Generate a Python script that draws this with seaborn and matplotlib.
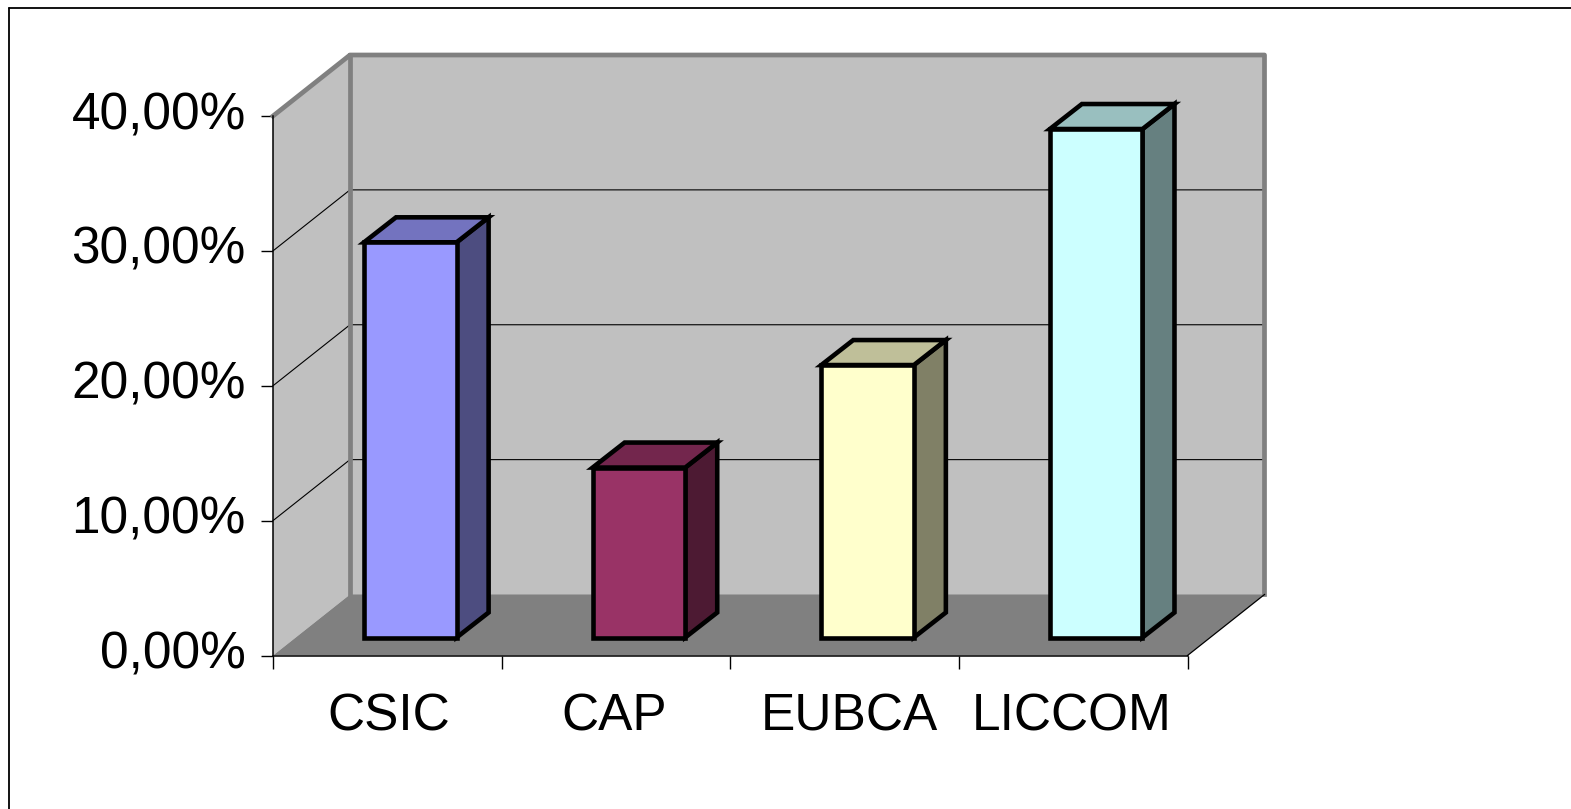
import matplotlib
matplotlib.use("Agg")
import matplotlib.pyplot as plt
import seaborn as sns
from matplotlib.lines import Line2D
from matplotlib.patches import Polygon
from matplotlib.transforms import Affine2D, IdentityTransform, ScaledTranslation

categories = ["CSIC", "CAP", "EUBCA", "LICCOM"]
values = [29.3, 12.6, 20.2, 37.7]
y_ticks = [0, 10, 20, 30, 40]
y_tick_labels = ["0,00%", "10,00%", "20,00%", "30,00%", "40,00%"]
front_colors = ["#9999FF", "#993366", "#FFFFCC", "#CCFFFF"]
top_colors = ["#7373BF", "#73264D", "#BFBF99", "#99BFBF"]
side_colors = ["#4D4D80", "#4D1A33", "#808066", "#668080"]

W, H = 1571, 809
sns.set_theme(style="white")
plt.rcParams["font.family"] = ["Liberation Sans", "DejaVu Sans"]

fig = plt.figure(figsize=(W / 100, H / 100), dpi=100, facecolor="white")
L, R, T, B = 273, 1187.5, 116, 655.5
ax = fig.add_axes([L / W, (H - B) / H, (R - L) / W, (B - T) / H])
ax.patch.set_visible(False)

BAR_LW = 3.3
sns.barplot(x=categories, y=values, hue=categories, palette=front_colors, width=0.405,
            saturation=1, edgecolor="black", linewidth=BAR_LW, legend=False, ax=ax)
ax.set_xlim(-0.5, 3.5)
ax.set_ylim(0, 40)

WALL_DX, WALL_DY = 77, 61        # full depth of the chart box, pixels
BAR_DX, BAR_DY = 23, 18          # where the bars stand inside the depth
BAR_DEPTH_X, BAR_DEPTH_Y = 32, 25  # depth of each bar


def px(x, y, dx=0, dy=0):
    """Data coordinates to display pixels, moved back by a depth offset."""
    a, b = ax.transData.transform((x, y))
    return (a + dx, b + dy)


def poly(points, face, edge="none", lw=0.0, z=1, join="miter"):
    ax.add_patch(Polygon(points, closed=True, facecolor=face, edgecolor=edge, linewidth=lw,
                         joinstyle=join, transform=IdentityTransform(), clip_on=False, zorder=z))


def line(points, color="black", lw=0.75, z=1.5):
    xs, ys = zip(*points)
    ax.add_line(Line2D(xs, ys, color=color, lw=lw, transform=IdentityTransform(),
                       clip_on=False, zorder=z, solid_capstyle="projecting"))


x0, x1 = ax.get_xlim()
y0, y1 = ax.get_ylim()
gray, wall, floor = "#808080", "#C0C0C0", "#808080"

# walls and floor
poly([px(x0, y0, WALL_DX, WALL_DY), px(x1, y0, WALL_DX, WALL_DY),
      px(x1, y1, WALL_DX, WALL_DY), px(x0, y1, WALL_DX, WALL_DY)], wall)
poly([px(x0, y0), px(x0, y0, WALL_DX, WALL_DY), px(x0, y1, WALL_DX, WALL_DY), px(x0, y1)], wall)
poly([px(x0, y0), px(x1, y0), px(x1, y0, WALL_DX, WALL_DY), px(x0, y0, WALL_DX, WALL_DY)], floor)

# gridlines on the back wall and the side wall
for t in y_ticks[1:-1]:
    line([px(x0, t), px(x0, t, WALL_DX, WALL_DY), px(x1, t, WALL_DX, WALL_DY)], lw=0.8)

# grey frame of the walls
line([px(x0, y1), px(x0, y1, WALL_DX, WALL_DY), px(x1, y1, WALL_DX, WALL_DY),
      px(x1, y0, WALL_DX, WALL_DY)], color=gray, lw=3.4, z=1.6)
line([px(x0, y1, WALL_DX, WALL_DY), px(x0, y0, WALL_DX, WALL_DY)], color=gray, lw=3.4, z=1.6)
# the floor's right edge is a thin black line
line([px(x1, y0), px(x1, y0, WALL_DX, WALL_DY)], lw=0.9, z=1.7)

# 3D bars
bars = list(ax.patches[:len(categories)])
shift = Affine2D().translate(BAR_DX, BAR_DY)
for bar, top_c, side_c in zip(bars, top_colors, side_colors):
    xa, xb, h = bar.get_x(), bar.get_x() + bar.get_width(), bar.get_height()
    off = (BAR_DX + BAR_DEPTH_X, BAR_DY + BAR_DEPTH_Y)
    poly([px(xb, 0, BAR_DX, BAR_DY), px(xb, h, BAR_DX, BAR_DY), px(xb, h, *off), px(xb, 0, *off)],
         side_c, "black", BAR_LW, z=4)
    poly([px(xa, h, BAR_DX, BAR_DY), px(xb, h, BAR_DX, BAR_DY), px(xb, h, *off),
          px(xa, h, BAR_DEPTH_X + BAR_DX, BAR_DEPTH_Y + BAR_DY)], top_c, "black", BAR_LW, z=4)
    bar.set_transform(ax.transData + shift)
    bar.set_clip_on(False)
    bar.set_joinstyle("miter")
    bar.set_zorder(5)

# axes
for s in ["top", "right"]:
    ax.spines[s].set_visible(False)
for s in ["left", "bottom"]:
    ax.spines[s].set_color("black")
    ax.spines[s].set_linewidth(1.1)
    ax.spines[s].set_zorder(3)

ax.set_yticks(y_ticks, y_tick_labels)
ax.tick_params(axis="y", left=True, length=8.6, width=1.0, color="black", pad=11,
               labelsize=37, labelcolor="black")
label_shift = ScaledTranslation(0, 6 / 100, fig.dpi_scale_trans)
for lab in ax.get_yticklabels():
    lab.set_transform(lab.get_transform() + label_shift)

ax.set_xticks(range(len(categories)), categories)
ax.tick_params(axis="x", which="major", bottom=False, length=0, pad=26.5,
               labelsize=37, labelcolor="black")
for lab, nudge in zip(ax.get_xticklabels(), [1, -2, 5, -1]):
    lab.set_transform(lab.get_transform() + ScaledTranslation(nudge / 100, 0, fig.dpi_scale_trans))
ax.set_xticks([x0 + i for i in range(len(categories) + 1)], minor=True)
ax.tick_params(axis="x", which="minor", bottom=True, length=9.5, width=1.0, color="black")
ax.set_xlabel("")
ax.set_ylabel("")

# outer frame: only the top and left edges fall inside the picture
fig.add_artist(Line2D([8.5 / W, 8.5 / W], [0, (H - 8) / H], color="black", lw=1.3,
                      transform=fig.transFigure))
fig.add_artist(Line2D([8.5 / W, 1], [(H - 8) / H, (H - 8) / H], color="black", lw=1.3,
                      transform=fig.transFigure))

fig.savefig("out.png", dpi=100, facecolor="white")
